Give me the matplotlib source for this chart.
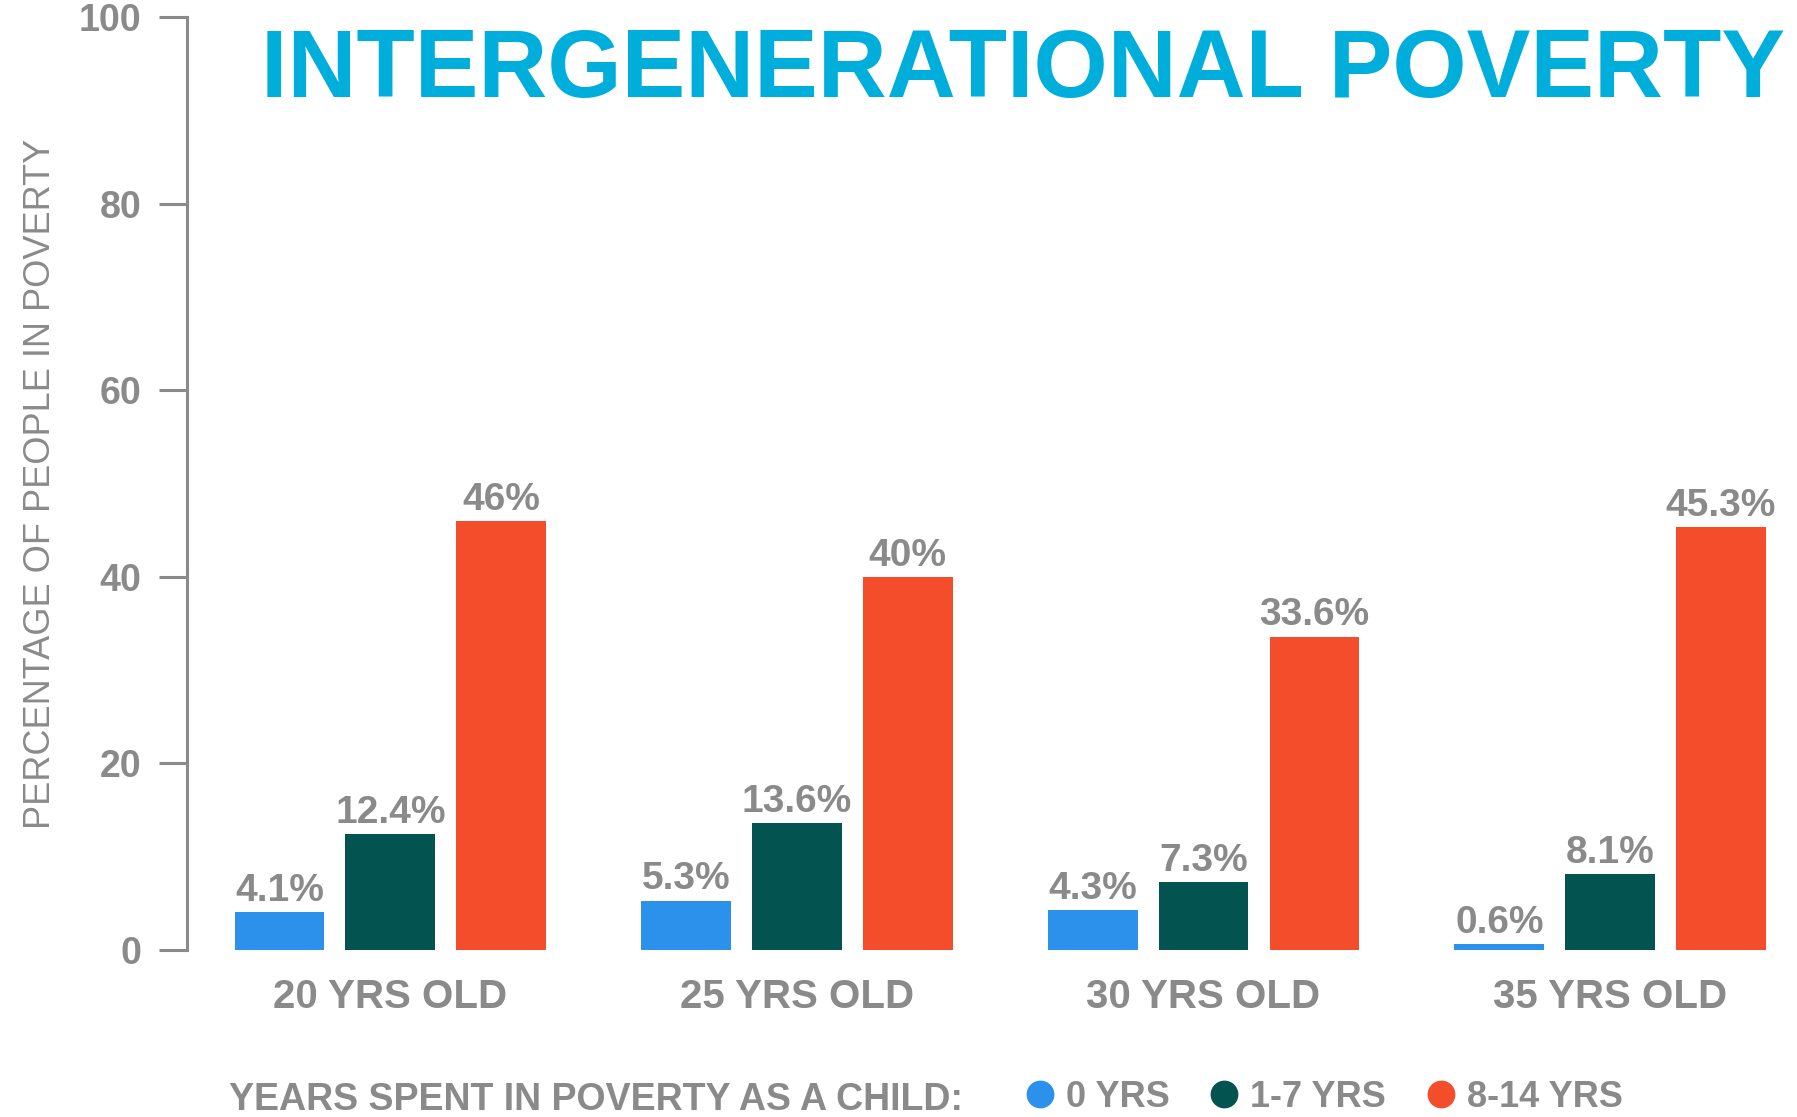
import matplotlib.pyplot as plt
from matplotlib.lines import Line2D
import numpy as np

plt.rcParams['font.family'] = ['Liberation Sans', 'DejaVu Sans']

# data
ages = ["20 YRS OLD", "25 YRS OLD", "30 YRS OLD", "35 YRS OLD"]
series_names = ["0 YRS", "1-7 YRS", "8-14 YRS"]
yrs_0 = [4.1, 5.3, 4.3, 0.6]
yrs_1_7 = [12.4, 13.6, 7.3, 8.1]
yrs_8_14 = [46, 40, 33.6, 45.3]
value_labels = [
    ["4.1%", "5.3%", "4.3%", "0.6%"],
    ["12.4%", "13.6%", "7.3%", "8.1%"],
    ["46%", "40%", "33.6%", "45.3%"],
]

colors = ["#2B91EA", "#035450", "#F44D2B"]
gray = "#8A8A8A"
title_color = "#00AEDB"

fig = plt.figure(figsize=(17.97, 11.17), dpi=100)
ax = fig.add_axes([0.1041, 0.1495, 0.896, 0.8353])

x = np.arange(len(ages))
offset = 0.2727
width = 0.221

for i, vals in enumerate([yrs_0, yrs_1_7, yrs_8_14]):
    bars = ax.bar(x + (i - 1) * offset, vals, width, color=colors[i], label=series_names[i])
    for b, lab in zip(bars, value_labels[i]):
        ax.annotate(lab, (b.get_x() + b.get_width() / 2, b.get_height()),
                    xytext=(0, 8), textcoords='offset points',
                    ha='center', va='baseline', fontsize=28, fontweight='bold', color=gray)

ax.set_xlim(-0.5, 3.46)
ax.set_ylim(0, 100)
ax.set_yticks(range(0, 101, 20))
ax.set_xticks(x)
ax.set_xticklabels(ages)

for s in ['top', 'right', 'bottom']:
    ax.spines[s].set_visible(False)
ax.spines['left'].set_color(gray)
ax.spines['left'].set_linewidth(2.2)

ax.tick_params(axis='y', length=20, width=2.2, color=gray, pad=13,
               labelsize=27, labelcolor=gray)
ax.tick_params(axis='x', length=0, pad=20, labelsize=29, labelcolor=gray)
for t in ax.get_yticklabels() + ax.get_xticklabels():
    t.set_fontweight('bold')

ax.set_ylabel("PERCENTAGE OF PEOPLE IN POVERTY", fontsize=26, color=gray)
ax.yaxis.set_label_coords(-0.080, 0.5)

fig.text(0.1452, 0.9132, "INTERGENERATIONAL POVERTY", fontsize=68.8,
         fontweight='bold', color=title_color, ha='left', va='baseline')

fig.text(0.1274, 0.0065, "YEARS SPENT IN POVERTY AS A CHILD:", fontsize=27,
         fontweight='bold', color=gray, ha='left', va='baseline')

handles = [Line2D([], [], marker='o', ls='', color=c, markersize=19) for c in colors]
leg = fig.legend(handles, series_names, loc='center left', bbox_to_anchor=(0.5712, 0.0175),
                 ncol=3, frameon=False, fontsize=26, handlelength=0.75,
                 handletextpad=0.35, columnspacing=1.13, borderpad=0, borderaxespad=0)
for t in leg.get_texts():
    t.set_color(gray)
    t.set_fontweight('bold')

fig.savefig("out.png", dpi=100)
